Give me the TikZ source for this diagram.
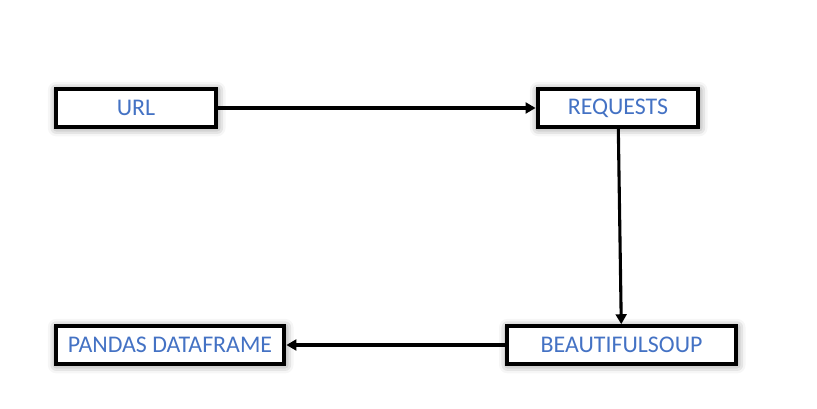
\documentclass[tikz,border=0pt]{standalone}
\usepackage{fontspec}
\setmainfont{Carlito}
\usepackage{tikz}
\usetikzlibrary{positioning, arrows.meta, shadows.blur}
\definecolor{txtblue}{HTML}{4472C4}
\tikzset{
    flowbox/.style={draw, line width=2.8pt, fill=white, minimum height=0.94cm, align=center, font=\fontsize{17}{19}\selectfont, text=txtblue, inner sep=2pt, blur shadow={shadow xshift=0.5pt, shadow yshift=-0.8pt, shadow blur radius=6pt, shadow opacity=55}},
    flowarrow/.style={-{Triangle[length=2.5mm, width=2.7mm]}, line width=2.2pt},
}

\begin{document}
\begin{tikzpicture}
        \useasboundingbox (0,0) rectangle (20.425,10.225);
        \node[flowbox, minimum width=4.02cm] (url)  at (3.4,7.525)   {URL};
        \node[flowbox, minimum width=4.02cm] (req)  at (15.45,7.525) {REQUESTS};
        \node[flowbox, minimum width=5.74cm] (soup) at (15.54,1.6)   {BEAUTIFULSOUP};
        \node[flowbox, minimum width=5.72cm] (df)   at (4.25,1.6)    {PANDAS DATAFRAME};
        \draw[flowarrow] (url) -- (req);
        \draw[flowarrow] (req) -- (soup);
        \draw[flowarrow] (soup) -- (df);
    \end{tikzpicture}
\end{document}
